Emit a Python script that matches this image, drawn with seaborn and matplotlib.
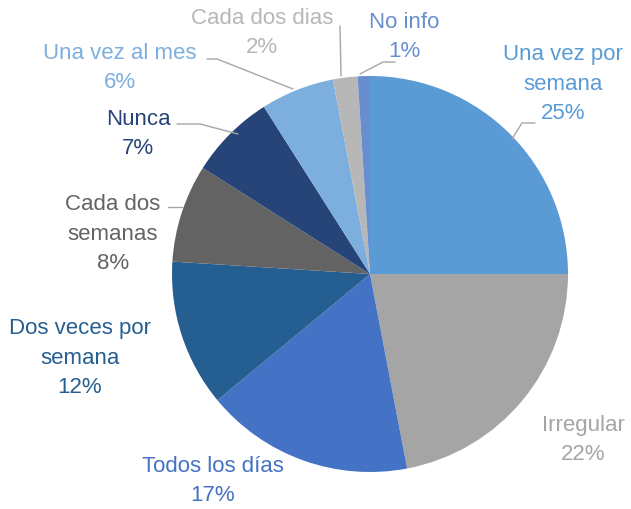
import matplotlib

matplotlib.use("Agg")

import matplotlib.pyplot as plt
import seaborn as sns

# slice data, clockwise from 12 o'clock
categories = [
    "Una vez por\nsemana",
    "Irregular",
    "Todos los días",
    "Dos veces por\nsemana",
    "Cada dos\nsemanas",
    "Nunca",
    "Una vez al mes",
    "Cada dos dias",
    "No info",
]
shares = [25, 22, 17, 12, 8, 7, 6, 2, 1]
colors = ["#5B9BD5", "#A5A5A5", "#4472C4", "#255E91", "#636363",
          "#264478", "#7CAFDD", "#B7B7B7", "#698ED0"]

# label anchors (pixels from top-left) and leader lines
label_xy = [(563, 84), (583, 440), (213, 481), (80, 358), (113, 234),
            (138, 134), (120, 68), (262, 33), (404, 37)]
leaders = {
    0: [(535, 124), (522, 124), (512, 140)],
    4: [(168, 208), (182, 208)],
    5: [(177, 125), (200, 125), (238, 135)],
    6: [(207, 60), (217, 60), (293, 90)],
    7: [(340, 27), (341, 77)],
    8: [(395, 63), (383, 63), (360, 75)],
}

W, H = 631, 510

sns.set_theme(style="white")
plt.rcParams["font.family"] = ["Liberation Sans", "DejaVu Sans"]

fig = plt.figure(figsize=(W / 100, H / 100), dpi=100)
ax = fig.add_axes([0, 0, 1, 1])

ax.pie(shares, colors=colors, startangle=90, counterclock=False,
       center=(370, H - 275), radius=198, frame=True,
       wedgeprops={"linewidth": 0})
ax.set_xlim(0, W)
ax.set_ylim(0, H)
ax.set_aspect("equal")
ax.axis("off")

for i, (name, pct, col) in enumerate(zip(categories, shares, colors)):
    x, y = label_xy[i]
    ax.text(x, H - y, f"{name}\n{pct}%", color=col, fontsize=16,
            ha="center", va="center", linespacing=1.55)

for pts in leaders.values():
    xs = [p[0] for p in pts]
    ys = [H - p[1] for p in pts]
    ax.plot(xs, ys, color="#A6A6A6", linewidth=1)

fig.savefig("out.png", dpi=100)
